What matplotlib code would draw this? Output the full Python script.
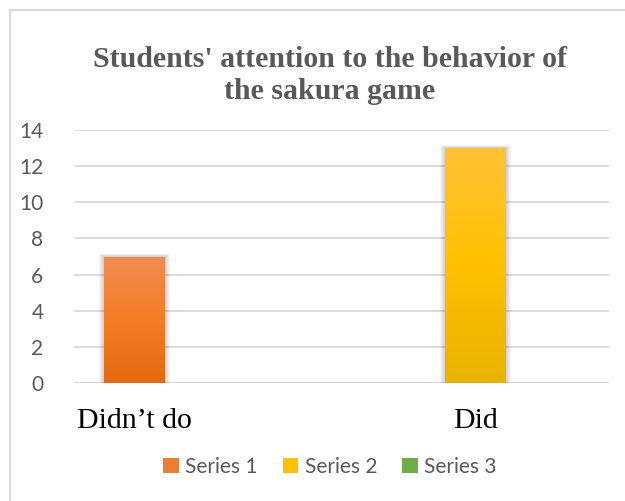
import numpy as np
import matplotlib
matplotlib.use("Agg")
import matplotlib.pyplot as plt
import matplotlib.transforms as mtransforms
from matplotlib.patches import Rectangle, Patch
from matplotlib.colors import to_rgb

# ---- data ----
categories = ["Didn\u2019t do", "Did"]
series_names = ["Series 1", "Series 2", "Series 3"]
series1 = [7, 0]
series2 = [0, 13]
series3 = [0, 0]
y_ticks = [0, 2, 4, 6, 8, 10, 12, 14]
title = "Students' attention to the behavior of\nthe sakura game"

# ---- style ----
W, H = 625, 501
DPI = 100
gray_text = "#595959"
grid_col = "#d9d9d9"
base_cols = ["#ED7D31", "#FFC000", "#70AD47"]
grad = [("#F08C52", "#F47C24", "#E46A12"),
        ("#FFC234", "#FFC000", "#E8B300"),
        ("#7CB556", "#70AD47", "#5E9A38")]
offsets = [-0.274, 0.0, 0.274]
bar_w = 0.228

fig = plt.figure(figsize=(W / DPI, H / DPI), dpi=DPI)
fig.patch.set_facecolor("white")

# chart border (left & top visible)
fig.patches.append(Rectangle((10 / W, -0.1), 1.2, 1 - 10 / H + 0.1,
                             transform=fig.transFigure, fill=False,
                             edgecolor="#d9d9d9", linewidth=1.5))

ax_l, ax_r, ax_b, ax_t = 74, 609, 383, 130
ax = fig.add_axes([ax_l / W, 1 - ax_b / H, (ax_r - ax_l) / W, (ax_b - ax_t) / H])
ax.set_xlim(-0.5, 1.5)
ax.set_ylim(0, 14)
for s in ax.spines.values():
    s.set_visible(False)
ax.set_yticks(y_ticks)
ax.yaxis.grid(True, color=grid_col, linewidth=1.3)
ax.set_axisbelow(True)
ax.tick_params(axis="y", length=0, pad=22, labelsize=15, labelcolor=gray_text)
for lab in ax.get_yticklabels():
    lab.set_fontfamily("Lato")
ax.set_xticks([])
ax.axhline(0, color=grid_col, linewidth=1.5, zorder=1)

px_x = 2.0 / (ax_r - ax_l)
px_y = 14.0 / (ax_b - ax_t)

x = np.arange(len(categories))
all_series = [series1, series2, series3]
for si, vals in enumerate(all_series):
    pos = x + offsets[si]
    bars = ax.bar(pos, vals, width=bar_w, color=base_cols[si], zorder=3,
                  label=series_names[si])
    top_c, mid_c, bot_c = [np.array(to_rgb(c)) for c in grad[si]]
    for b, v in zip(bars, vals):
        if v <= 0:
            continue
        x0, x1 = b.get_x(), b.get_x() + b.get_width()
        # soft shadow
        for k in range(1, 6):
            ax.add_patch(Rectangle((x0 - k * px_x, 0.0), (x1 - x0) + 2 * k * px_x,
                                   v + k * px_y * 0.6, facecolor="black",
                                   alpha=0.035, edgecolor="none", zorder=2))
        # vertical gradient
        n = 100
        t = np.linspace(0, 1, n)[:, None]  # 0 top -> 1 bottom
        col = np.where(t < 0.5, top_c + (mid_c - top_c) * (t / 0.5),
                       mid_c + (bot_c - mid_c) * ((t - 0.5) / 0.5))
        img = col[:, None, :]
        im = ax.imshow(img, extent=[x0, x1, 0, v], aspect="auto", zorder=4,
                       interpolation="bilinear")
        im.set_clip_path(b)

ax.set_xlim(-0.5, 1.5)
ax.set_ylim(0, 14)

# category labels under the bars
label_pos = []
for ci in range(len(categories)):
    vals = [s[ci] for s in all_series]
    label_pos.append(ci + offsets[int(np.argmax(vals))])
trans = mtransforms.blended_transform_factory(ax.transData, fig.transFigure)
for p, c in zip(label_pos, categories):
    ax.text(p, 1 - 428 / H, c, transform=trans, ha="center", va="baseline",
            fontsize=21.5, fontfamily="Liberation Serif", color="black")

# title
fig.text(330 / W, 1 - 46 / H, title, ha="center", va="top",
         fontsize=21.5, fontweight="bold", fontfamily="Liberation Serif",
         color=gray_text, linespacing=1.26)

# legend
handles = [Patch(facecolor=c, edgecolor="none") for c in base_cols]
leg = fig.legend(handles, series_names, loc="center", ncol=3,
                 bbox_to_anchor=(330 / W, 1 - 467 / H), frameon=False,
                 prop={"family": "Lato", "size": 15},
                 handlelength=0.75, handleheight=0.75, handletextpad=0.3,
                 columnspacing=1.2, borderaxespad=0)
for t in leg.get_texts():
    t.set_color(gray_text)

fig.savefig("out.png", dpi=DPI)
